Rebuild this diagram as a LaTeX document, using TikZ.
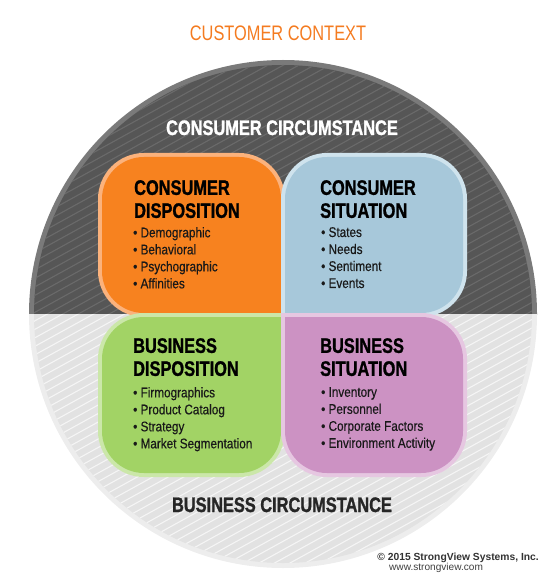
\documentclass[tikz,border=0pt]{standalone}
\usepackage{fontspec}
\usepackage{tikz}
\usetikzlibrary{positioning}
\usetikzlibrary{calc}
\setmainfont{Liberation Sans}
\newfontfamily\condfont[FakeStretch = 0.78, BoldFeatures = {FakeBold = 1.2}]{Liberation Sans}
\newfontfamily\listfont[FakeStretch = 0.84, FakeBold = 0.4]{Liberation Sans}
\definecolor{titleOrange}{HTML}{F47B20}
\definecolor{darkHalf}{HTML}{565656}
\definecolor{darkStripe}{HTML}{6A6A6A}
\definecolor{darkRing}{HTML}{7A7A7A}
\definecolor{lightHalf}{HTML}{E2E2E2}
\definecolor{lightStripe}{HTML}{F5F5F5}
\definecolor{lightRing}{HTML}{EDEDED}
\definecolor{orangeFill}{HTML}{F7821F}
\definecolor{orangeEdge}{HTML}{FBB27C}
\definecolor{blueFill}{HTML}{A7C8DA}
\definecolor{blueEdge}{HTML}{CFE3ED}
\definecolor{greenFill}{HTML}{A2D365}
\definecolor{greenEdge}{HTML}{CBE7A9}
\definecolor{purpleFill}{HTML}{CC92C3}
\definecolor{purpleEdge}{HTML}{E6C7E1}
\tikzstyle{head} = [inner sep = 0pt, align = left, text = black, font = \condfont\bfseries\fontsize{21}{23}\selectfont]
\tikzstyle{items} = [inner sep = 0pt, align = left, text = black!90, font = \listfont\fontsize{14}{17}\selectfont]

\begin{document}
\begin{tikzpicture}[x = 1pt, y = -1pt]
		% Переменные
		\pgfmathsetmacro{\cx}{283}
		\pgfmathsetmacro{\cy}{314}
		\pgfmathsetmacro{\rC}{254}
		\pgfmathsetmacro{\ring}{5}
		\pgfmathsetmacro{\xl}{98}
		\pgfmathsetmacro{\xm}{283}
		\pgfmathsetmacro{\xr}{467}
		\pgfmathsetmacro{\yt}{153}
		\pgfmathsetmacro{\ym}{315}
		\pgfmathsetmacro{\yb}{477}
		\pgfmathsetmacro{\rad}{46}
		\pgfmathsetmacro{\bw}{4}
		% Стили
		\tikzstyle{stripe} = [line width = 1.1pt]
		\tikzstyle{outer} = [rounded corners = \rad pt]
		\tikzstyle{inner} = [rounded corners = \rad pt - \bw pt]
		\tikzstyle{circ} = [inner sep = 0pt, anchor = base, font = \condfont\bfseries\fontsize{21}{23}\selectfont]
		\useasboundingbox (0, 0) rectangle (554, 580);
		% Заголовок
		\node[inner sep = 0pt, anchor = base, text = titleOrange, font = \condfont\fontsize{21}{23}\selectfont] (title) at (278, 41) {CUSTOMER CONTEXT};
		% Верхняя половина круга
		\begin{scope}
			\clip (\cx-\rC, \cy) rectangle (\cx+\rC, \cy-\rC);
			\fill[darkRing] (\cx, \cy) circle (\rC);
			\fill[darkHalf] (\cx, \cy) circle (\rC-\ring);
			\clip (\cx, \cy) circle (\rC-\ring);
			\foreach \k in {0, ..., 110}
				\draw[stripe, darkStripe] (0, \k*8.5) -- ++(600, -330);
		\end{scope}
		% Нижняя половина круга
		\begin{scope}
			\clip (\cx-\rC, \cy) rectangle (\cx+\rC, \cy+\rC);
			\fill[lightRing] (\cx, \cy) circle (\rC);
			\fill[lightHalf] (\cx, \cy) circle (\rC-\ring);
			\clip (\cx, \cy) circle (\rC-\ring);
			\foreach \k in {0, ..., 110}
				\draw[stripe, lightStripe] (0, \k*8.5) -- ++(600, -330);
		\end{scope}
		% Лепестки
		\fill[outer, orangeEdge] (\xm+2, \ym+2) -- (\xl, \ym+2) -- (\xl, \yt) -- (\xm+2, \yt) -- (\xm+2, \ym+2);
		\fill[inner, orangeFill] (\xm+2-\bw, \ym+2-\bw) -- (\xl+\bw, \ym+2-\bw) -- (\xl+\bw, \yt+\bw) -- (\xm+2-\bw, \yt+\bw) -- (\xm+2-\bw, \ym+2-\bw);
		\fill[outer, blueEdge] (\xm-2, \ym+2) -- (\xm-2, \yt) -- (\xr, \yt) -- (\xr, \ym+2) -- (\xm-2, \ym+2);
		\fill[inner, blueFill] (\xm-2+\bw, \ym+2-\bw) -- (\xm-2+\bw, \yt+\bw) -- (\xr-\bw, \yt+\bw) -- (\xr-\bw, \ym+2-\bw) -- (\xm-2+\bw, \ym+2-\bw);
		\fill[outer, greenEdge] (\xm+2, \ym-2) -- (\xm+2, \yb) -- (\xl, \yb) -- (\xl, \ym-2) -- (\xm+2, \ym-2);
		\fill[inner, greenFill] (\xm+2-\bw, \ym-2+\bw) -- (\xm+2-\bw, \yb-\bw) -- (\xl+\bw, \yb-\bw) -- (\xl+\bw, \ym-2+\bw) -- (\xm+2-\bw, \ym-2+\bw);
		\fill[outer, purpleEdge] (\xm-2, \ym-2) -- (\xr, \ym-2) -- (\xr, \yb) -- (\xm-2, \yb) -- (\xm-2, \ym-2);
		\fill[inner, purpleFill] (\xm-2+\bw, \ym-2+\bw) -- (\xr-\bw, \ym-2+\bw) -- (\xr-\bw, \yb-\bw) -- (\xm-2+\bw, \yb-\bw) -- (\xm-2+\bw, \ym-2+\bw);
		% Надписи на круге
		\node[circ, text = white] (cCirc) at (282, 135) {CONSUMER CIRCUMSTANCE};
		\node[circ, text = black!85] (bCirc) at (282, 512) {BUSINESS CIRCUMSTANCE};
		% Тексты лепестков
		\node[head, anchor = north west] (hCD) at (134, 180) {CONSUMER\\DISPOSITION};
		\node[items, anchor = north west] (lCD) at (133, 227) {• Demographic\\• Behavioral\\• Psychographic\\• Affinities};
		\node[head, anchor = north west] (hCS) at (320, 180) {CONSUMER\\SITUATION};
		\node[items, anchor = north west] (lCS) at (321, 227) {• States\\• Needs\\• Sentiment\\• Events};
		\node[head, anchor = north west] (hBD) at (133, 338) {BUSINESS\\DISPOSITION};
		\node[items, anchor = north west] (lBD) at (133, 387) {• Firmographics\\• Product Catalog\\• Strategy\\• Market Segmentation};
		\node[head, anchor = north west] (hBS) at (320, 338) {BUSINESS\\SITUATION};
		\node[items, anchor = north west] (lBS) at (321, 387) {• Inventory\\• Personnel\\• Corporate Factors\\• Environment Activity};
		% Подпись
		\node[inner sep = 0pt, anchor = base east, text = black!80, font = \bfseries\fontsize{10.3}{12}\selectfont] (copy) at (539, 560) {© 2015 StrongView Systems, Inc.};
		\node[inner sep = 0pt, anchor = base west, text = black!75, font = \fontsize{10.1}{12}\selectfont] (web) at (389, 570) {www.strongview.com};
	\end{tikzpicture}
\end{document}
